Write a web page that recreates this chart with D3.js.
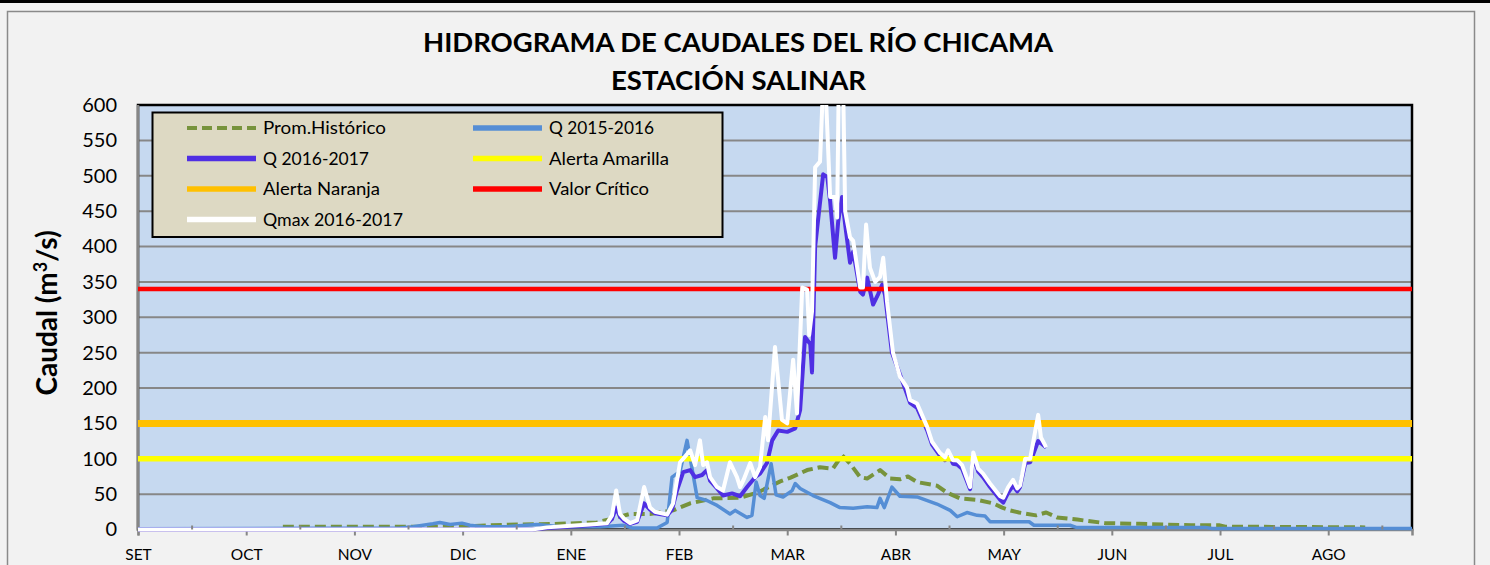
<!DOCTYPE html>
<html><head><meta charset="utf-8">
<script src="https://cdn.jsdelivr.net/npm/d3@7"></script>
<style>body{margin:0;background:#f2f2f2;} svg{display:block;}</style>
</head><body>
<svg id="chart" width="1490" height="565"></svg>
<script>
// ---- DATA (day index from 1 SET, value in m3/s) ----
const monthLabels = ["SET","OCT","NOV","DIC","ENE","FEB","MAR","ABR","MAY","JUN","JUL","AGO"];
const yTickValues = [0,50,100,150,200,250,300,350,400,450,500,550,600];

const promHistorico = [[41.5,4],[92.8,4],[100.9,6],[109.5,7],[120.9,8],[131.5,10],[137.2,17],[141,22],[146.7,22],[153.3,27],[158.2,37],[164.8,44],[172.5,45],[177.4,52],[184,68],[186.8,73],[191.7,84],[195.4,88],[199.1,86],[201.7,105],[204,93],[206.9,74],[208.9,72],[212.6,84],[215.5,72],[218.3,71],[220.6,75],[223.2,67],[228.9,62],[231.8,52],[235.5,44],[240.4,42],[245,37],[247.6,31],[249.9,27],[252.4,24],[257.3,20],[260.2,24],[263.3,17],[269.1,14],[277.1,9],[286.8,8],[301.7,6],[309.7,6],[311.5,4],[351.6,3]];

const q2015 = [[0,1],[75.1,2],[78.8,4],[84.5,8],[86.5,10],[89.4,7],[92.8,9],[95.1,6],[98.9,4],[105.7,4],[114.3,7],[120.9,4],[132.4,4],[139,6],[141.8,2],[148.7,2],[151.6,10],[153,74],[155.3,82],[157.3,126],[160.2,45],[163,41],[165.9,34],[169.6,22],[171.1,27],[174.5,17],[175.9,20],[177.1,67],[178.2,48],[179.4,44],[181.4,93],[182.8,49],[184.8,46],[187.4,55],[188.3,65],[189.7,58],[193.4,48],[198.3,38],[201.1,31],[204.9,30],[208.9,32],[211.7,31],[212.6,44],[213.8,31],[216,60],[218.3,47],[223.2,46],[228.9,36],[232.7,27],[234.7,18],[237.5,24],[240.4,20],[242.7,19],[244.1,11],[255.3,11],[256.7,6],[267,6],[268.8,3],[305.7,3],[307.7,1.5],[365,1.5]];

const q2016 = [[0,0],[112.9,0],[117.2,2],[122.9,4],[129.5,6],[134.4,8],[135.8,15],[137,31],[138.1,18],[139.3,12],[141,8],[143,11],[145,37],[146.7,28],[148.1,23],[151.6,20],[153,28],[154.4,55],[156.2,81],[158.2,84],[159.6,74],[161.6,77],[163,84],[163.9,69],[165.9,58],[167.6,48],[170.2,51],[172.5,47],[174.5,60],[176.8,74],[178.2,79],[180.2,94],[181.7,126],[183.4,140],[186,138],[188.3,143],[189.7,169],[191.1,272],[192.6,262],[193.1,222],[194,400],[196.3,502],[197.5,498],[198.3,464],[199.7,384],[200.6,435],[201.7,470],[202.6,431],[204,377],[204.9,393],[206.9,336],[207.7,332],[208.9,356],[210.6,318],[212,332],[213.2,346],[214,332],[216,250],[218.9,211],[221.2,179],[223.2,172],[226.1,140],[227.5,120],[229.8,104],[231.2,98],[232.1,108],[233.5,93],[234.7,92],[236.1,86],[238.4,57],[239.3,105],[240.7,82],[242.1,74],[244.1,60],[247,42],[247.9,38],[249.3,52],[250.7,62],[251.9,54],[252.7,60],[254.2,94],[255.6,95],[257.9,125],[258.7,122],[260.2,116]];

const qmax2016 = [[0,0],[112.9,0],[117.2,3],[122.9,5],[129.5,7],[134.4,9],[135.8,20],[137,55],[138.1,22],[139.3,15],[141,9],[143,13],[145,60],[146.7,31],[148.1,25],[151.6,21],[153.3,37],[155.3,95],[156.2,100],[158.2,112],[159.6,91],[161,126],[161.9,91],[163,95],[163.9,74],[165.9,60],[167.6,55],[169.6,95],[171.6,74],[172.5,60],[173.4,69],[175.4,94],[176.8,74],[178.2,88],[179.7,159],[180.5,126],[182.5,258],[184.5,155],[186,150],[187.7,240],[188.8,164],[190.3,342],[191.7,339],[192.3,275],[193.1,308],[194,512],[195.4,520],[196.6,670],[198.3,470],[199.7,470],[200.3,441],[201.3,850],[202.6,450],[204,413],[204.9,408],[206.9,342],[207.7,342],[208.6,431],[209.7,370],[211.2,350],[212.6,357],[213.5,384],[214.6,322],[216.3,250],[218.3,216],[220.3,201],[221.2,183],[223.2,178],[226.1,145],[227.5,124],[229.8,108],[231.2,102],[232.1,112],[233.5,98],[234.7,98],[236.1,91],[238.4,60],[239.3,109],[240.7,86],[242.1,79],[244.1,65],[247,47],[247.9,45],[249.3,60],[250.7,70],[251.9,58],[252.7,62],[254.2,100],[255.6,100],[257.9,162],[258.7,130],[260.2,116]];

const alertaAmarilla = 100;
const alertaNaranja = 150;
const valorCritico = 340;
const dayDomain = [0, 365];
const daysPerMajorTick = 31;

// ---- LAYOUT ----
const svg = d3.select("#chart");
const W = 1490, H = 565;
const plot = {left: 138, right: 1412, top: 105, bottom: 529.5};
const x = d3.scaleLinear().domain(dayDomain).range([plot.left, plot.right]);
const y = d3.scaleLinear().domain([0, 600]).range([plot.bottom, plot.top]);
const FONT = "Lato, 'Open Sans', sans-serif";

svg.append("rect").attr("width", W).attr("height", H).attr("fill", "#f2f2f2");
svg.append("rect").attr("x", 0).attr("y", 0).attr("width", W).attr("height", 3).attr("fill", "#000");
svg.append("rect").attr("x", 7.5).attr("y", 11.5).attr("width", 1467).attr("height", 600)
  .attr("fill", "none").attr("stroke", "#8a8a8a").attr("stroke-width", 1.5);

// title
const title = svg.append("g").attr("font-family", FONT).attr("font-weight", 700).attr("fill", "#000").attr("text-anchor", "middle");
title.append("text").attr("x", 738).attr("y", 52).attr("font-size", 27)
  .attr("textLength", 630).attr("lengthAdjust", "spacingAndGlyphs").text("HIDROGRAMA DE CAUDALES DEL RÍO CHICAMA");
title.append("text").attr("x", 738.5).attr("y", 90).attr("font-size", 27)
  .attr("textLength", 255).attr("lengthAdjust", "spacingAndGlyphs").text("ESTACIÓN SALINAR");

// plot background
svg.append("rect").attr("x", plot.left).attr("y", plot.top).attr("width", plot.right - plot.left)
  .attr("height", plot.bottom - plot.top).attr("fill", "#c6d9f0");

// gridlines
svg.append("g").selectAll("line").data(yTickValues.filter(v => v > 0 && v < 600)).join("line")
  .attr("x1", plot.left).attr("x2", plot.right).attr("y1", d => y(d)).attr("y2", d => y(d))
  .attr("stroke", "#878787").attr("stroke-width", 2);

// plot border
svg.append("rect").attr("x", plot.left).attr("y", plot.top).attr("width", plot.right - plot.left)
  .attr("height", plot.bottom - plot.top).attr("fill", "none").attr("stroke", "#000").attr("stroke-width", 2.5);

// y axis line
svg.append("line").attr("x1", plot.left).attr("x2", plot.left).attr("y1", plot.top).attr("y2", plot.bottom)
  .attr("stroke", "#868686").attr("stroke-width", 2.5);

// y axis labels via d3 axis
const yAxis = d3.axisLeft(y).tickValues(yTickValues).tickSize(0).tickPadding(21);
const gy = svg.append("g").attr("transform", `translate(${plot.left},0)`).call(yAxis);
gy.select(".domain").remove();
gy.selectAll("text").attr("font-family", FONT).attr("font-size", 20).attr("fill", "#000");

// x axis
const majorTicks = monthLabels.map((m, i) => i * daysPerMajorTick);
const minorTicks = monthLabels.map((m, i) => i * daysPerMajorTick + daysPerMajorTick / 2);
const xAxis = d3.axisBottom(x).tickValues(majorTicks).tickSize(6).tickPadding(13)
  .tickFormat((d, i) => monthLabels[i]);
const gx = svg.append("g").attr("transform", `translate(0,${plot.bottom})`).call(xAxis);
gx.select(".domain").attr("stroke", "#868686").attr("stroke-width", 2.5);
gx.selectAll(".tick line").attr("stroke", "#868686").attr("stroke-width", 2);
gx.selectAll("text").attr("font-family", FONT).attr("font-size", 15.5).attr("fill", "#000");

// y axis title
const yt = svg.append("text").attr("transform", "translate(57,313) rotate(-90)")
  .attr("text-anchor", "middle").attr("font-family", FONT).attr("font-weight", 700)
  .attr("font-size", 28).attr("fill", "#000");
yt.append("tspan").text("Caudal (m");
yt.append("tspan").attr("font-size", 18).attr("dy", -10).text("3");
yt.append("tspan").attr("dy", 10).text("/s)");

// series
svg.append("clipPath").attr("id", "clip").append("rect")
  .attr("x", plot.left).attr("y", plot.top).attr("width", plot.right - plot.left).attr("height", plot.bottom - plot.top + 3);
const line = d3.line().x(d => x(d[0])).y(d => y(d[1]));
const flat = v => [[dayDomain[0], v], [dayDomain[1], v]];

const series = [
  {name: "Prom.Histórico", data: promHistorico, color: "#77933c", width: 4, dash: "11,5"},
  {name: "Q 2015-2016", data: q2015, color: "#558ed5", width: 3.5},
  {name: "Q 2016-2017", data: q2016, color: "#4f2fe3", width: 4},
  {name: "Alerta Amarilla", data: flat(alertaAmarilla), color: "#ffff00", width: 5.5},
  {name: "Alerta Naranja", data: flat(alertaNaranja), color: "#ffc000", width: 7},
  {name: "Valor Crítico", data: flat(valorCritico), color: "#ff0000", width: 4.5},
  {name: "Qmax 2016-2017", data: qmax2016, color: "#ffffff", width: 4}
];

const gs = svg.append("g").attr("clip-path", "url(#clip)");
series.forEach(s => {
  gs.append("path").datum(s.data).attr("d", line).attr("fill", "none")
    .attr("stroke", s.color).attr("stroke-width", s.width)
    .attr("stroke-dasharray", s.dash || null).attr("stroke-linejoin", "round");
});

// minor ticks (inside)
svg.append("g").selectAll("line").data(minorTicks).join("line")
  .attr("x1", d => x(d)).attr("x2", d => x(d)).attr("y1", plot.bottom - 4).attr("y2", plot.bottom)
  .attr("stroke", "#868686").attr("stroke-width", 2);

// legend
const lg = svg.append("g");
lg.append("rect").attr("x", 152.5).attr("y", 112.5).attr("width", 570).attr("height", 124.5)
  .attr("fill", "#ddd9c3").attr("stroke", "#000").attr("stroke-width", 2);
const legendLen = [123, 105, 106, 120, 117, 100, 140];
const colX = [187, 473];
const rowY = [128, 158.5, 189, 219.5];
series.forEach((s, i) => {
  const cx = colX[i % 2], cy = rowY[Math.floor(i / 2)];
  lg.append("line").attr("x1", cx).attr("x2", cx + 69).attr("y1", cy).attr("y2", cy)
    .attr("stroke", s.color).attr("stroke-width", s.dash ? 4 : 5.5)
    .attr("stroke-dasharray", s.dash ? "10,5" : null);
  lg.append("text").attr("x", cx + 76).attr("y", cy + 6).attr("font-family", FONT)
    .attr("font-size", 17).attr("fill", "#000")
    .attr("textLength", legendLen[i]).attr("lengthAdjust", "spacingAndGlyphs").text(s.name);
});
</script>
</body></html>
